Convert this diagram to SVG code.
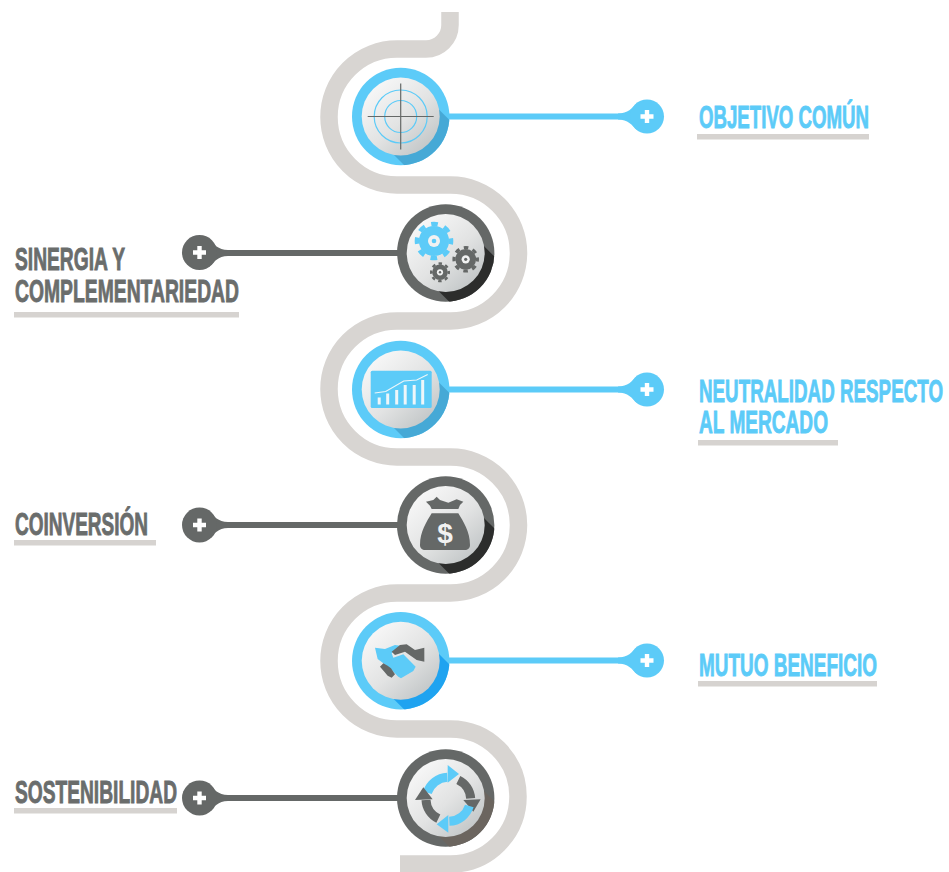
<svg xmlns="http://www.w3.org/2000/svg" width="949" height="872" viewBox="0 0 949 872">
<style>
.rib{fill:none;stroke:#d8d5d2;stroke-width:17.5}
.ln{fill:none;stroke-width:6}
.b{stroke:#5ccbf8}.g{stroke:#656867}
.bf{fill:#5ccbf8}.gf{fill:#656867}
.t{font-family:"Liberation Sans",sans-serif;font-weight:700;font-size:32px;stroke-width:.9}
.tb{fill:#5ccbf8;stroke:#5ccbf8}.tg{fill:#6a6d6c;stroke:#6a6d6c}
.u{fill:#d6d3d0}
.inner{fill:url(#face)}
.plus{fill:#fff}
</style>
<defs>
<linearGradient id="face" x1="0.15" y1="0.1" x2="0.85" y2="0.9"><stop offset="0" stop-color="#f7f7f7"/><stop offset="0.55" stop-color="#e2e3e3"/><stop offset="1" stop-color="#c3c7c8"/></linearGradient>
<clipPath id="ringclip"><circle r="48.7"/></clipPath>
<polygon id="sh" points="22.6,-22.6 -22.6,22.6 27.4,72.6 72.6,27.4"/>
<path id="plus" d="M-2.2,-6.5H2.2V-2.2H6.5V2.2H2.2V6.5H-2.2V2.2H-6.5V-2.2H-2.2Z"/>
<g id="gear"><circle r="0.78" fill="currentColor"/><circle r="0.88" fill="none" stroke="currentColor" stroke-width="0.24" stroke-dasharray="0.345 0.346" stroke-dashoffset="0.172"/><circle r="0.31" fill="#f1f2f2"/><circle r="0.12" fill="currentColor"/></g>
</defs>
<path id="ribbon" class="rib" d="M450,12V25A24,24 0 0 1 426,49H397A68,68 0 0 0 397,185H450.500A68,68 0 0 1 450.500,321H397A68,68 0 0 0 397,457H450.500A68,68 0 0 1 450.500,593H397A68,68 0 0 0 397,729H450.500A67.500,67.500 0 0 1 450.500,864H400"/>
<g id="connectors">
<path class="ln b" d="M445,116.500H625"/><path class="bf" d="M618,113.500C628,113.500 632,108 637,103V130C632,125 628,119.500 618,119.500Z"/>
<path class="ln g" d="M398,253H220"/><path class="gf" d="M228,250C218,250 214,244 209,239V267C214,262 218,256 228,256Z"/>
<path class="ln b" d="M445,389.500H625"/><path class="bf" d="M618,386.500C628,386.500 632,381 637,376V403C632,398 628,392.500 618,392.500Z"/>
<path class="ln g" d="M398,525H220"/><path class="gf" d="M228,522C218,522 214,516 209,511V539C214,534 218,528 228,528Z"/>
<path class="ln b" d="M445,660.500H625"/><path class="bf" d="M618,657.500C628,657.500 632,652 637,647V674C632,669 628,663.500 618,663.500Z"/>
<path class="ln g" d="M398,798H220"/><path class="gf" d="M228,795C218,795 214,789 209,784V812C214,807 218,801 228,801Z"/>
</g>

<g id="node-objetivo">
<g transform="translate(400.700,116.500)">
<circle r="48.700" class="bf"/><use href="#sh" fill="#46a9d6" clip-path="url(#ringclip)"/><circle r="39" class="inner"/>
<circle r="26.500" fill="none" stroke="#5ccbf8" stroke-width="1.200"/><circle r="16" fill="none" stroke="#5ccbf8" stroke-width="1.200"/>
<path d="M-33,0H33M0,-33V33" stroke="#656867" stroke-width="1.200" fill="none"/>
</g>
<circle class="bf" cx="647" cy="116.500" r="17"/><use href="#plus" class="plus" x="647" y="116.500"/>
<text class="t tb" transform="translate(699,128) scale(.585,1)" textLength="290.600" lengthAdjust="spacingAndGlyphs">OBJETIVO COMÚN</text>
<rect class="u" x="697" y="134" width="172" height="5.500"/>
</g>

<g id="node-sinergia">
<g transform="translate(445.700,253)">
<circle r="48.700" class="gf"/><use href="#sh" fill="#2c2d2c" clip-path="url(#ringclip)"/><circle r="39" class="inner"/>
<use href="#gear" color="#5ccbf8" transform="translate(-11.700,-12) scale(19.300)"/>
<use href="#gear" color="#656867" transform="translate(20,6.300) scale(13.300)"/>
<use href="#gear" color="#656867" transform="translate(-5.700,19.300) scale(10)"/>
</g>
<circle class="gf" cx="199.500" cy="252.500" r="17.500"/><use href="#plus" class="plus" x="199.500" y="252.500"/>
<text class="t tg" transform="translate(15,270) scale(.585,1)" textLength="188" lengthAdjust="spacingAndGlyphs">SINERGIA Y</text>
<text class="t tg" transform="translate(15,301.500) scale(.585,1)" textLength="382.900" lengthAdjust="spacingAndGlyphs">COMPLEMENTARIEDAD</text>
<rect class="u" x="14" y="312" width="225" height="5.500"/>
</g>

<g id="node-neutralidad">
<g transform="translate(400.700,389.500)">
<circle r="48.700" class="bf"/><use href="#sh" fill="#46a9d6" clip-path="url(#ringclip)"/><circle r="39" class="inner"/>
<rect x="-30" y="-18.800" width="61" height="37.300" rx="1.500" class="bf"/>
<path d="M-23,15H-20V8H-23ZM-14.500,15H-11.500V4H-14.500ZM-5.500,15H-2.500V0.500H-5.500ZM3,15H6V-4.500H3ZM12,15H15V-4.500H12ZM20.500,15H23.500V-9.500H20.500Z" fill="#eef6f9"/>
<path d="M-26,3.500L-15,2L3,-8.500L16,-9.500L27,-15" fill="none" stroke="#eef6f9" stroke-width="1.200"/>
</g>
<circle class="bf" cx="647" cy="389.500" r="17"/><use href="#plus" class="plus" x="647" y="389.500"/>
<text class="t tb" transform="translate(699,402) scale(.585,1)" textLength="417.100" lengthAdjust="spacingAndGlyphs">NEUTRALIDAD RESPECTO</text>
<text class="t tb" transform="translate(699,433) scale(.585,1)" textLength="220.500" lengthAdjust="spacingAndGlyphs">AL MERCADO</text>
<rect class="u" x="698" y="440" width="140" height="5.500"/>
</g>

<g id="node-coinversion">
<g transform="translate(415,490) scale(.3333)">
<circle cx="92" cy="105" r="146.100" class="gf"/>
</g>
<g transform="translate(445.700,525)">
<use href="#sh" fill="#2c2d2c" clip-path="url(#ringclip)"/><circle r="39" class="inner"/>
</g>
<g transform="translate(415,490) scale(.3333)">
<path class="gf" d="M33,35L55,30L65,20L75,30L100,38L125,28L145,35L135,45L130,57H50L45,47Z"/>
<path class="gf" d="M50,70H130C145,95 165,125 165,165C165,175 158,180 150,180H30C22,180 15,175 15,165C15,125 35,95 50,70Z"/>
</g>
<text x="445" y="543" text-anchor="middle" font-family="Liberation Sans,sans-serif" font-weight="700" font-size="28" fill="#f2f2f2">$</text>
<circle class="gf" cx="199.500" cy="525" r="17.500"/><use href="#plus" class="plus" x="199.500" y="525"/>
<text class="t tg" transform="translate(15,535) scale(.585,1)" textLength="227.400" lengthAdjust="spacingAndGlyphs">COINVERSIÓN</text>
<rect class="u" x="14" y="540" width="142" height="5.500"/>
</g>

<g id="node-mutuo">
<g transform="translate(400.700,660.800)">
<circle r="48.700" class="bf"/><use href="#sh" fill="#1fa3f0" clip-path="url(#ringclip)"/><circle r="39" class="inner"/>
</g>
<g transform="translate(365,635) scale(.3333)">
<path class="bf" d="M30,38L60,42L90,30L105,32L80,55L85,68L115,58L152,95L145,108L108,130L100,125L75,100L38,72Z"/>
<path class="gf" d="M80,50L105,30L125,28L150,45L178,38V80L155,75L120,50L90,60Z"/>
<path class="gf" d="M45,95L55,85L68,92L78,100L90,118L80,128L68,122L58,110Z"/>
</g>
<circle class="bf" cx="647" cy="660.500" r="17"/><use href="#plus" class="plus" x="647" y="660.500"/>
<text class="t tb" transform="translate(699,676) scale(.585,1)" textLength="304.300" lengthAdjust="spacingAndGlyphs">MUTUO BENEFICIO</text>
<rect class="u" x="698" y="681" width="179" height="5.500"/>
</g>

<g id="node-sostenibilidad">
<g transform="translate(445.700,798)">
<circle r="48.700" class="gf"/><use href="#sh" fill="#6b655f" clip-path="url(#ringclip)"/><circle r="39" class="inner"/>
</g>
<g transform="translate(410,760) scale(.3333)" fill="none" stroke-width="27">
<path class="b" d="M52,98A66,66 0 0 1 112,52"/><path class="bf" d="M113,15L147,42L113,68Z"/>
<path class="g" d="M145,60A66,66 0 0 1 182,115"/><path class="gf" d="M212,118L190,155L160,120Z"/>
<path class="b" d="M178,138A66,66 0 0 1 118,184"/><path class="bf" d="M115,218L80,193L115,165Z"/>
<path class="g" d="M85,176A66,66 0 0 1 48,120"/><path class="gf" d="M15,120L40,82L68,118Z"/>
</g>
<circle class="gf" cx="199.500" cy="798" r="17.500"/><use href="#plus" class="plus" x="199.500" y="798"/>
<text class="t tg" transform="translate(15,803) scale(.585,1)" textLength="276.900" lengthAdjust="spacingAndGlyphs">SOSTENIBILIDAD</text>
<rect class="u" x="14" y="808" width="163" height="5.500"/>
</g>
</svg>
